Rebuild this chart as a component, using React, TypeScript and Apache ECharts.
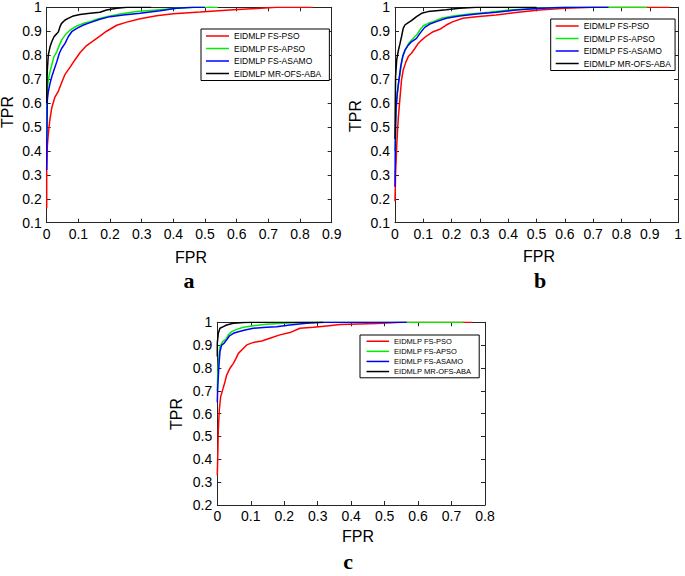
import React, { useEffect, useRef } from "react";
import * as echarts from "echarts";

const seriesNames = ["EIDMLP FS-PSO", "EIDMLP FS-APSO", "EIDMLP FS-ASAMO", "EIDMLP MR-OFS-ABA"];
const seriesColors = ["#ff0000", "#00ee00", "#0000ff", "#000000"];
const xTickMax = [0.9, 1.0, 0.8];
const yTickMin = [0.1, 0.1, 0.2];
const panelLetters = ["a", "b", "c"];

type P = [number, number][];

// Panel a
const rocA_PSO: P = [[0,0.16],[0,0.33],[0.002,0.42],[0.005,0.47],[0.01,0.53],[0.016,0.58],[0.026,0.625],[0.037,0.65],[0.047,0.685],[0.058,0.72],[0.074,0.75],[0.089,0.78],[0.105,0.81],[0.126,0.84],[0.147,0.86],[0.168,0.88],[0.189,0.9],[0.221,0.925],[0.253,0.938],[0.295,0.952],[0.347,0.965],[0.4,0.973],[0.484,0.98],[0.59,0.99],[0.663,0.995],[0.726,1.0],[0.84,1.0]];
const rocA_APSO: P = [[0,0.45],[0.001,0.6],[0.002,0.654],[0.005,0.696],[0.0105,0.731],[0.016,0.759],[0.023,0.794],[0.032,0.815],[0.04,0.842],[0.047,0.863],[0.058,0.884],[0.074,0.905],[0.095,0.922],[0.116,0.933],[0.137,0.94],[0.158,0.95],[0.189,0.961],[0.232,0.972],[0.284,0.982],[0.347,0.989],[0.41,0.996],[0.47,1.0],[0.54,1.0]];
const rocA_ASAMO: P = [[0,0.32],[0.001,0.5],[0.002,0.613],[0.005,0.647],[0.0105,0.682],[0.016,0.71],[0.023,0.738],[0.032,0.773],[0.04,0.808],[0.047,0.828],[0.058,0.849],[0.068,0.877],[0.079,0.898],[0.095,0.912],[0.116,0.926],[0.137,0.936],[0.168,0.95],[0.2,0.961],[0.242,0.968],[0.295,0.975],[0.358,0.986],[0.41,0.996],[0.46,1.0],[0.5,1.0]];
const rocA_ABA: P = [[0,0.6],[0.001,0.7],[0.002,0.738],[0.005,0.8],[0.0105,0.835],[0.016,0.856],[0.023,0.877],[0.032,0.89],[0.037,0.898],[0.042,0.919],[0.047,0.933],[0.058,0.947],[0.068,0.954],[0.084,0.964],[0.105,0.97],[0.137,0.975],[0.168,0.979],[0.189,0.989],[0.221,0.996],[0.253,1.0],[0.33,1.0]];

// Panel b
const rocB_PSO: P = [[0,0.19],[0.002,0.306],[0.006,0.417],[0.009,0.487],[0.012,0.543],[0.018,0.627],[0.023,0.696],[0.029,0.738],[0.039,0.773],[0.047,0.794],[0.058,0.808],[0.07,0.828],[0.082,0.849],[0.094,0.863],[0.111,0.88],[0.135,0.898],[0.158,0.908],[0.181,0.926],[0.205,0.94],[0.24,0.954],[0.287,0.961],[0.357,0.968],[0.427,0.978],[0.51,0.989],[0.6,0.996],[0.7,1.0],[0.97,1.0]];
const rocB_APSO: P = [[0,0.4],[0.002,0.52],[0.006,0.613],[0.012,0.682],[0.018,0.724],[0.023,0.766],[0.029,0.8],[0.039,0.828],[0.05,0.852],[0.064,0.87],[0.076,0.884],[0.088,0.905],[0.099,0.922],[0.117,0.933],[0.135,0.94],[0.164,0.954],[0.205,0.964],[0.263,0.972],[0.333,0.979],[0.404,0.989],[0.5,0.996],[0.6,1.0],[0.89,1.0]];
const rocB_ASAMO: P = [[0,0.25],[0.001,0.42],[0.0035,0.571],[0.008,0.64],[0.014,0.696],[0.02,0.752],[0.027,0.794],[0.035,0.821],[0.047,0.842],[0.058,0.856],[0.076,0.87],[0.088,0.891],[0.105,0.916],[0.123,0.93],[0.146,0.94],[0.181,0.954],[0.228,0.964],[0.287,0.972],[0.357,0.979],[0.427,0.989],[0.52,0.996],[0.6,1.0],[0.754,1.0]];
const rocB_ABA: P = [[0,0.45],[0.001,0.6],[0.002,0.71],[0.006,0.78],[0.012,0.82],[0.018,0.85],[0.023,0.877],[0.029,0.912],[0.035,0.926],[0.047,0.936],[0.058,0.944],[0.076,0.961],[0.094,0.975],[0.117,0.982],[0.146,0.986],[0.181,0.99],[0.228,0.996],[0.287,1.0],[0.5,1.0]];

// Panel c
const rocC_PSO: P = [[0,0.33],[0.002,0.455],[0.003,0.528],[0.006,0.616],[0.01,0.674],[0.016,0.704],[0.023,0.74],[0.028,0.769],[0.038,0.799],[0.048,0.82],[0.056,0.842],[0.063,0.864],[0.073,0.879],[0.088,0.901],[0.108,0.912],[0.133,0.918],[0.157,0.93],[0.187,0.945],[0.217,0.955],[0.247,0.974],[0.287,0.978],[0.327,0.984],[0.367,0.99],[0.476,0.995],[0.55,1.0],[0.76,1.0]];
const rocC_APSO: P = [[0,0.7],[0.001,0.762],[0.004,0.835],[0.008,0.893],[0.016,0.915],[0.026,0.926],[0.033,0.945],[0.043,0.959],[0.058,0.969],[0.078,0.978],[0.108,0.985],[0.147,0.991],[0.197,0.996],[0.247,0.999],[0.3,1.0],[0.735,1.0]];
const rocC_ASAMO: P = [[0,0.65],[0.001,0.704],[0.004,0.791],[0.008,0.872],[0.013,0.9],[0.02,0.908],[0.028,0.923],[0.036,0.94],[0.048,0.952],[0.063,0.959],[0.083,0.966],[0.108,0.974],[0.147,0.978],[0.177,0.981],[0.217,0.988],[0.267,0.996],[0.32,1.0],[0.566,1.0]];
const rocC_ABA: P = [[0,0.85],[0,0.908],[0.003,0.952],[0.008,0.974],[0.018,0.981],[0.028,0.988],[0.048,0.996],[0.078,0.999],[0.1,1.0],[0.317,1.0]];

const panelCurves: P[][] = [
  [rocA_PSO, rocA_APSO, rocA_ASAMO, rocA_ABA],
  [rocB_PSO, rocB_APSO, rocB_ASAMO, rocB_ABA],
  [rocC_PSO, rocC_APSO, rocC_ASAMO, rocC_ABA],
];

const FONT = "'Liberation Sans', Arial, sans-serif";
const AXIS_COLOR = "#262626";

const grids = [
  { left: 46.7, top: 7.3, width: 285, height: 215.4 },
  { left: 395, top: 7.3, width: 285, height: 215.4 },
  { left: 217.3, top: 322.3, width: 267.7, height: 182.7 },
];

const legends = [
  { left: 201, top: 29, fontSize: 8.5, lineHeight: 10, itemGap: 2.5, itemWidth: 23, padding: [2, 8, 2, 5] },
  { left: 550.7, top: 19, fontSize: 8.5, lineHeight: 10, itemGap: 2.5, itemWidth: 23, padding: [2, 4, 2, 5] },
  { left: 360, top: 335, fontSize: 7.5, lineHeight: 8.5, itemGap: 1.6, itemWidth: 22.6, padding: [2, 8, 2, 6.5] },
];

const labelTexts = [
  { text: "FPR", x: 191, y: 257, rot: 0, size: 16 },
  { text: "TPR", x: 7.5, y: 112, rot: Math.PI / 2, size: 16 },
  { text: "FPR", x: 539, y: 256, rot: 0, size: 16 },
  { text: "TPR", x: 355, y: 116, rot: Math.PI / 2, size: 16 },
  { text: "FPR", x: 358, y: 536, rot: 0, size: 16 },
  { text: "TPR", x: 176, y: 414, rot: Math.PI / 2, size: 16 },
];
const letterPos = [
  { x: 189, y: 280.5 },
  { x: 540, y: 280.5 },
  { x: 348, y: 561 },
];

const fmt = (v: number) => String(Math.round(v * 10) / 10);

export default function App() {
  const ref = useRef<HTMLDivElement>(null);
  useEffect(() => {
    if (!ref.current) return;
    const chart = echarts.init(ref.current, null, { renderer: "svg" });
    const xAxis: any[] = [];
    const yAxis: any[] = [];
    grids.forEach((_, i) => {
      const common = {
        type: "value",
        gridIndex: i,
        interval: 0.1,
        splitLine: { show: false },
        axisLine: { show: true, onZero: false, lineStyle: { color: AXIS_COLOR, width: 1 } },
        axisTick: { show: true, inside: true, length: 4, lineStyle: { color: AXIS_COLOR, width: 1 } },
      };
      xAxis.push({
        ...common, min: 0, max: xTickMax[i], position: "bottom",
        axisLabel: { show: true, fontSize: 14, fontFamily: FONT, color: "#000", margin: 4, formatter: fmt },
      });
      xAxis.push({ ...common, min: 0, max: xTickMax[i], position: "top", axisLabel: { show: false } });
      yAxis.push({
        ...common, min: yTickMin[i], max: 1, position: "left",
        axisLabel: { show: true, fontSize: 14, fontFamily: FONT, color: "#000", margin: 5, formatter: fmt },
      });
      yAxis.push({ ...common, min: yTickMin[i], max: 1, position: "right", axisLabel: { show: false } });
    });

    const series: any[] = [];
    panelCurves.forEach((curves, g) => {
      curves.forEach((data, k) => {
        series.push({
          type: "line",
          name: seriesNames[k],
          xAxisIndex: g * 2,
          yAxisIndex: g * 2,
          data,
          symbol: "none",
          showSymbol: false,
          clip: true,
          lineStyle: { color: seriesColors[k], width: 1.5 },
          itemStyle: { color: seriesColors[k] },
          z: 2 + k,
        });
      });
    });

    const graphic: any[] = [];
    labelTexts.forEach((t) => {
      graphic.push({
        type: "text", x: t.x, y: t.y, rotation: t.rot,
        style: { text: t.text, fontSize: t.size, fontFamily: FONT, fill: "#000", align: "center", verticalAlign: "middle" },
      });
    });
    letterPos.forEach((p, i) => {
      graphic.push({
        type: "text", x: p.x, y: p.y,
        style: { text: panelLetters[i], fontSize: 22, fontWeight: "bold", fontFamily: "'Liberation Serif', 'Times New Roman', serif", fill: "#000", align: "center", verticalAlign: "middle" },
      });
    });

    chart.setOption({
      animation: false,
      backgroundColor: "#fff",
      grid: grids.map((g) => ({ ...g, show: false, containLabel: false })),
      xAxis,
      yAxis,
      legend: legends.map((l) => ({
        orient: "vertical",
        left: l.left,
        top: l.top,
        icon: "rect",
        itemWidth: l.itemWidth,
        itemHeight: 1.5,
        itemGap: l.itemGap,
        padding: l.padding,
        borderColor: "#000",
        borderWidth: 1,
        backgroundColor: "#fff",
        selectedMode: false,
        textStyle: { fontSize: l.fontSize, lineHeight: l.lineHeight, fontFamily: FONT, color: "#000" },
        data: seriesNames,
      })),
      series,
      graphic,
    });
    return () => chart.dispose();
  }, []);
  return <div ref={ref} style={{ position: "absolute", left: 0, top: 0, width: 685, height: 576 }} />;
}
